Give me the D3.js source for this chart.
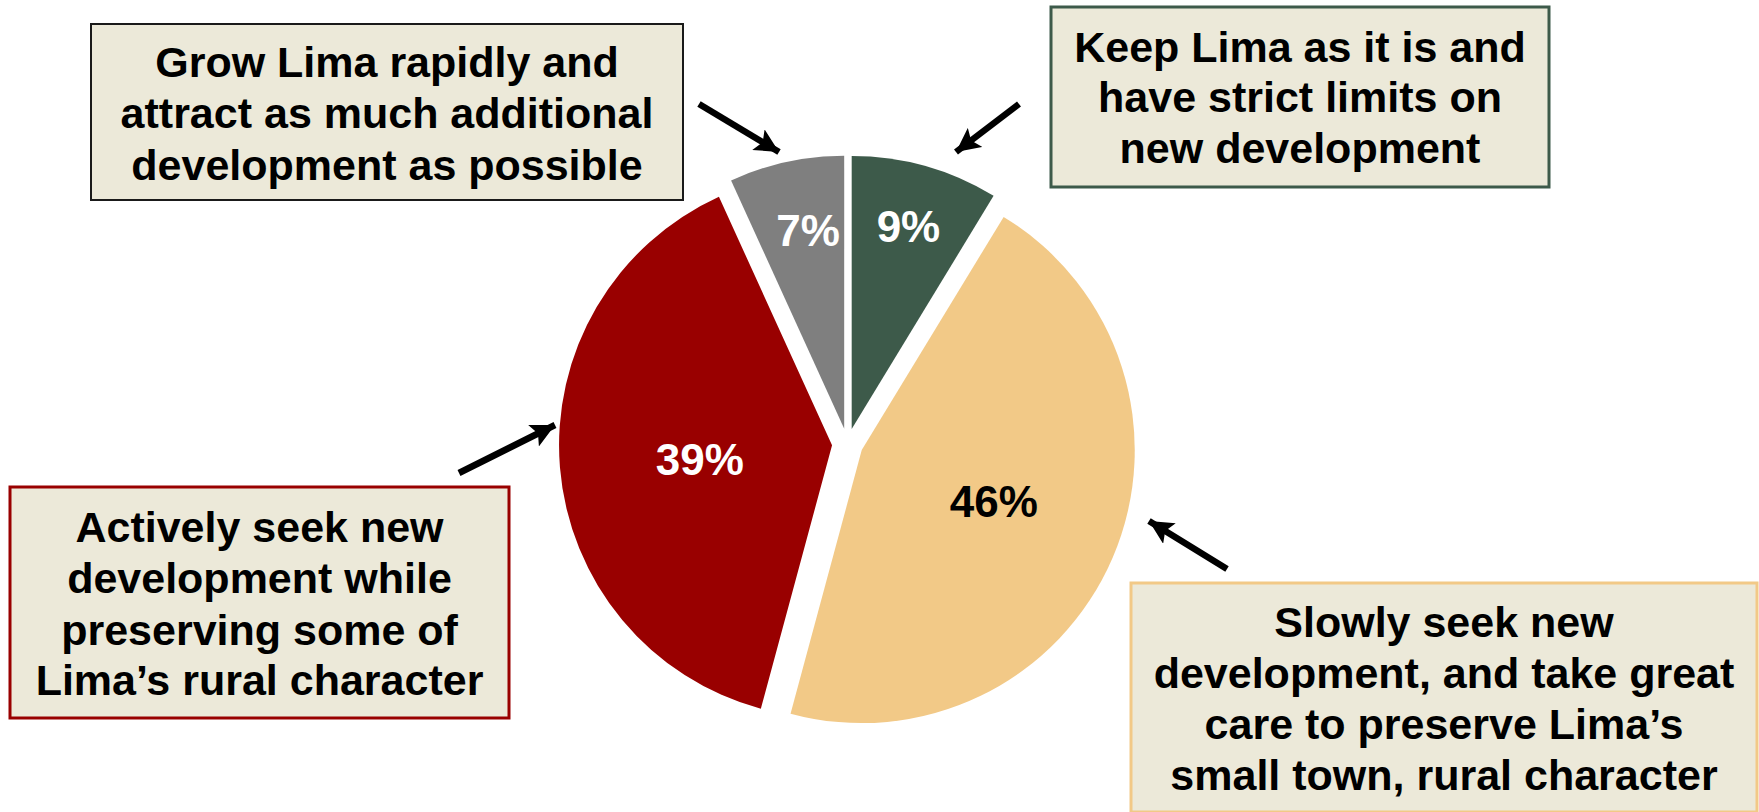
<!DOCTYPE html>
<html>
<head>
<meta charset="utf-8">
<script src="https://cdn.jsdelivr.net/npm/d3@7"></script>
<style>
  html, body { margin: 0; padding: 0; background: #fff; }
  svg { display: block; }
</style>
</head>
<body>
<svg id="chart" width="1759" height="812"></svg>
<script>
// ---- data ----
const categories = [
  "Keep Lima as it is and have strict limits on new development",
  "Slowly seek new development, and take great care to preserve Lima’s small town, rural character",
  "Actively seek new development while preserving some of Lima’s rural character",
  "Grow Lima rapidly and attract as much additional development as possible"
];
// slice shares (percent); labels show them rounded
const values = [8.7, 45.5, 39.0, 6.8];
const valueLabels = values.map(v => Math.round(v) + "%");
const colors = ["#3d5a4a", "#f2c987", "#990000", "#7f7f7f"];
const labelColors = ["#ffffff", "#000000", "#ffffff", "#ffffff"];
const calloutLines = [
  ["Keep Lima as it is and", "have strict limits on", "new development"],
  ["Slowly seek new", "development, and take great", "care to preserve Lima’s", "small town, rural character"],
  ["Actively seek new", "development while", "preserving some of", "Lima’s rural character"],
  ["Grow Lima rapidly and", "attract as much additional", "development as possible"]
];

// ---- layout / style ----
const cx = 847.5, cy = 444, R = 273, explode = 15.5;
const labelFrac = [0.77, 0.52, 0.487, 0.74];
const labelNudgeDeg = [0, -1.8, -1.6, 1.9];
const boxes = [
  {x: 1051, y: 7,   w: 498, h: 180, stroke: "#3d5a4a", sw: 3, baselines: [62, 112, 163]},
  {x: 1131, y: 583, w: 626, h: 229, stroke: "#f2c987", sw: 3, baselines: [637, 688, 739, 790]},
  {x: 10,   y: 487, w: 499, h: 231, stroke: "#990000", sw: 3, baselines: [542, 593, 645, 695]},
  {x: 91,   y: 24,  w: 592, h: 176, stroke: "#1a1a1a", sw: 2, baselines: [77, 128, 180]}
];
const arrows = [
  {x1: 1019, y1: 104, x2: 956, y2: 152},
  {x1: 1227, y1: 569, x2: 1149, y2: 521},
  {x1: 459,  y1: 473, x2: 555, y2: 425},
  {x1: 699,  y1: 104, x2: 779, y2: 152}
];
const FONT = "'Liberation Sans', Arial, Helvetica, sans-serif";

const svg = d3.select("#chart");

// arrowhead marker
svg.append("defs").append("marker")
  .attr("id", "ah")
  .attr("markerUnits", "userSpaceOnUse")
  .attr("viewBox", "0 0 24 24")
  .attr("refX", 24).attr("refY", 12)
  .attr("markerWidth", 24).attr("markerHeight", 24)
  .attr("orient", "auto")
  .append("path")
  .attr("d", "M0,0 L24,12 L0,24 L5,12 Z")
  .attr("fill", "#000");

// pie
const pie = d3.pie().sort(null).value(d => d).startAngle(0).endAngle(2 * Math.PI);
const arcs = pie(values);
const arc = d3.arc().innerRadius(0).outerRadius(R);

const g = svg.append("g").attr("transform", `translate(${cx},${cy})`);
const slices = g.selectAll("g.slice").data(arcs).enter().append("g")
  .attr("class", "slice")
  .attr("transform", d => {
    const a = (d.startAngle + d.endAngle) / 2;
    return `translate(${Math.sin(a) * explode},${-Math.cos(a) * explode})`;
  });

slices.append("path")
  .attr("d", arc)
  .attr("fill", (d, i) => colors[i]);

slices.append("text")
  .attr("transform", (d, i) => {
    const r = labelFrac[i] * R;
    const a = (d.startAngle + d.endAngle) / 2 + labelNudgeDeg[i] * Math.PI / 180;
    return `translate(${Math.sin(a) * r},${-Math.cos(a) * r})`;
  })
  .attr("text-anchor", "middle")
  .attr("dominant-baseline", "central")
  .attr("font-family", FONT)
  .attr("font-weight", "bold")
  .attr("font-size", 44)
  .attr("fill", (d, i) => labelColors[i])
  .text((d, i) => valueLabels[i]);

// arrows
svg.selectAll("line.arrow").data(arrows).enter().append("line")
  .attr("class", "arrow")
  .attr("x1", d => d.x1).attr("y1", d => d.y1)
  .attr("x2", d => d.x2).attr("y2", d => d.y2)
  .attr("stroke", "#000")
  .attr("stroke-width", 6.5)
  .attr("marker-end", "url(#ah)");

// callout boxes
const bx = svg.selectAll("g.box").data(boxes).enter().append("g").attr("class", "box");
bx.append("rect")
  .attr("x", d => d.x).attr("y", d => d.y)
  .attr("width", d => d.w).attr("height", d => d.h)
  .attr("fill", "#ece9d9")
  .attr("stroke", d => d.stroke)
  .attr("stroke-width", d => d.sw);
bx.each(function(d, i) {
  const sel = d3.select(this);
  calloutLines[i].forEach((line, j) => {
    sel.append("text")
      .attr("x", d.x + d.w / 2)
      .attr("y", d.baselines[j])
      .attr("text-anchor", "middle")
      .attr("font-family", FONT)
      .attr("font-weight", "bold")
      .attr("font-size", 43)
      .attr("fill", "#000")
      .text(line);
  });
});
</script>
</body>
</html>
